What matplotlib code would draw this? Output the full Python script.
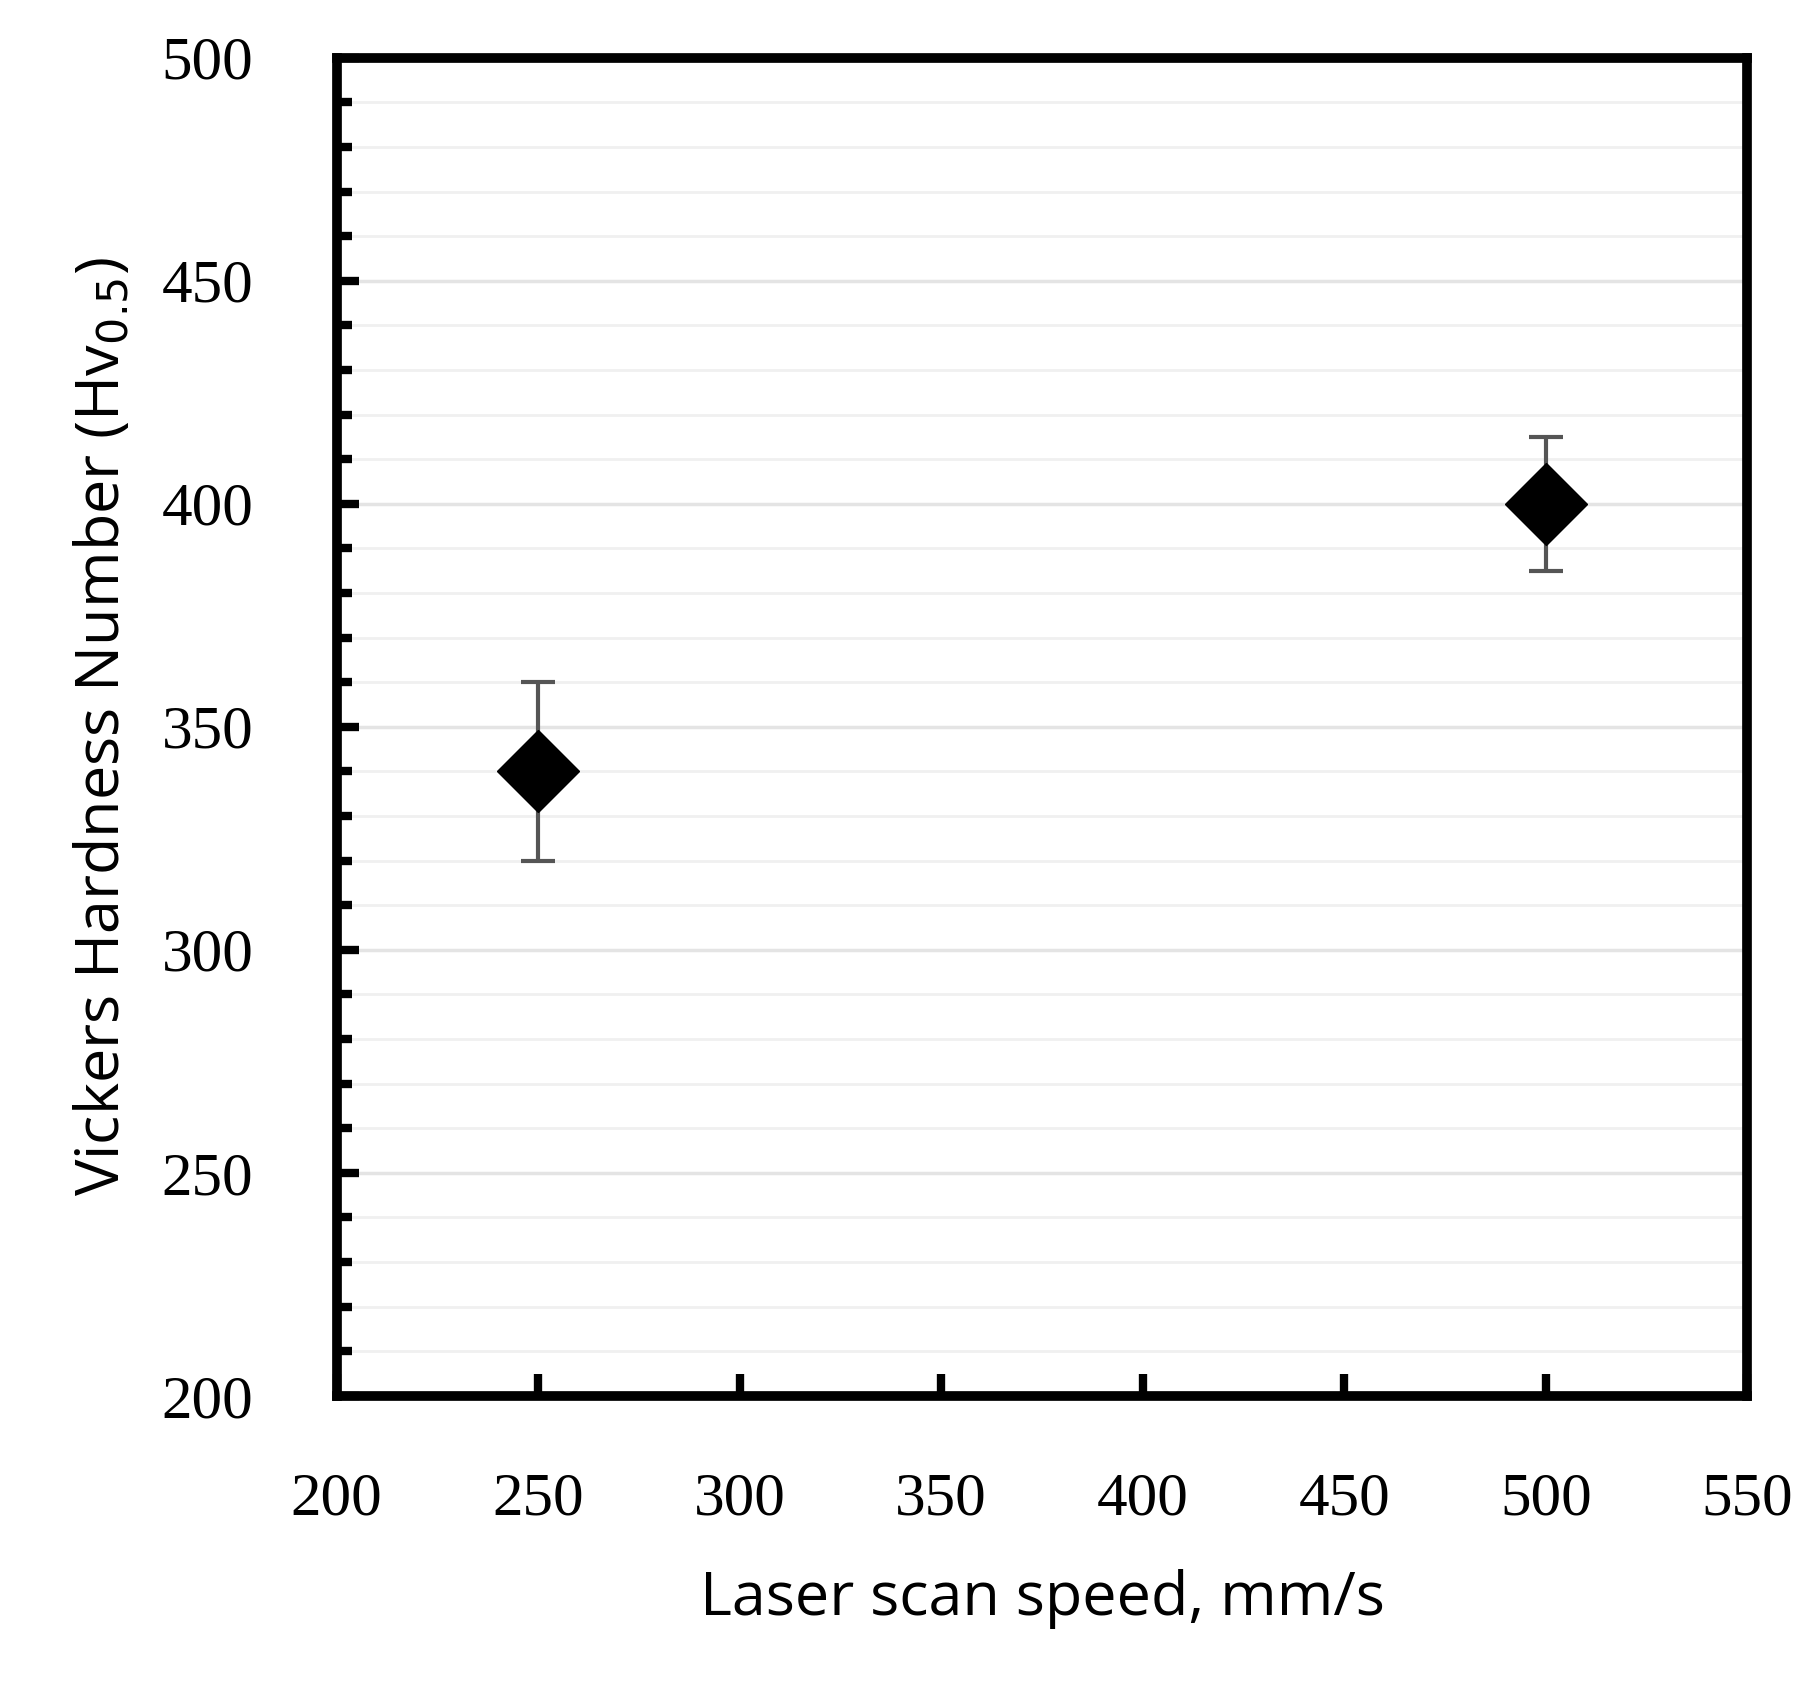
import numpy as np
import matplotlib.pyplot as plt
from matplotlib.ticker import MultipleLocator

# --- Data ---
scan_speed = [250, 500]
hardness = [340, 400]
hardness_err = [20, 15]

fig = plt.figure(figsize=(18.2, 16.98), dpi=100)
ax = fig.add_axes([0.185, 0.178, 0.775, 0.788])

ax.errorbar(scan_speed, hardness, yerr=hardness_err, fmt='D', color='black',
            markersize=42, ecolor='#555555', elinewidth=3, capsize=12, capthick=3, zorder=3)

ax.set_xlim(200, 550)
ax.set_ylim(200, 500)
ax.xaxis.set_major_locator(MultipleLocator(50))
ax.yaxis.set_major_locator(MultipleLocator(50))
ax.yaxis.set_minor_locator(MultipleLocator(10))

ax.grid(axis='y', which='major', color='#e4e4e4', linewidth=2.5)
ax.grid(axis='y', which='minor', color='#f0f0f0', linewidth=2)
ax.set_axisbelow(True)

for s in ax.spines.values():
    s.set_linewidth(7)
ax.tick_params(axis='both', which='major', direction='in', length=16, width=6,
               labelsize=44, pad=22)
ax.tick_params(axis='y', which='minor', direction='in', length=11, width=6)
ax.tick_params(axis='y', which='major', pad=60)
ax.tick_params(axis='x', which='major', pad=55)
for lbl in ax.get_xticklabels() + ax.get_yticklabels():
    lbl.set_family('Liberation Serif')

ax.set_xlabel('Laser scan speed, mm/s', fontsize=44, family='Open Sans', labelpad=30)
ax.set_ylabel(r'Vickers Hardness Number (Hv$_{0.5}$)', fontsize=44, family='Open Sans', labelpad=20)

fig.savefig('out.png', dpi=100)
